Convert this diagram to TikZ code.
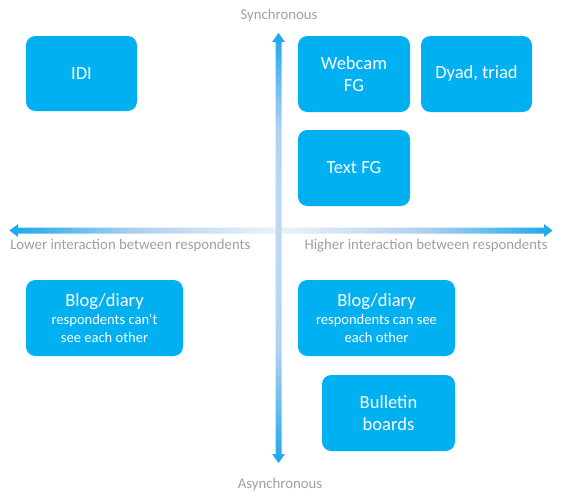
\documentclass[tikz,border=0pt]{standalone}
\usepackage{fontspec}
\setmainfont{Carlito}
\definecolor{boxblue}{HTML}{00B0F0}
\definecolor{axblue}{HTML}{1BA8EE}
\definecolor{axmid}{HTML}{B5D2EE}
\definecolor{axlight}{HTML}{EAF2FA}
\definecolor{labgray}{HTML}{A0A0A0}
\newcommand{\subtext}{\fontsize{10.9}{13}\selectfont}
\tikzset{
  qbox/.style={draw=none, fill=boxblue, rounded corners=7pt, text=white, align=center, inner sep=0pt, font=\fontsize{13.9}{16.5}\selectfont},
  axlabel/.style={text=labgray, inner sep=0pt, font=\fontsize{11.1}{13}\selectfont}
}
\begin{document}
\begin{tikzpicture}[x=0.75pt,y=-0.75pt]
\useasboundingbox (0,0) rectangle (562,497);
\fill[white] (0,0) rectangle (562,497);
% axes
\coordinate (c) at (278.5,230.5);
% left arrow
\shade[left color=axblue, right color=axlight, middle color=axmid]
  (278.5,227.5) -- (18,227.5) -- (18,224) -- (9.5,230.5) -- (18,237) -- (18,233.5) -- (278.5,233.5) -- cycle;
% right arrow
\shade[left color=axlight, right color=axblue, middle color=axmid]
  (278.5,227.5) -- (544,227.5) -- (544,224) -- (552.5,230.5) -- (544,237) -- (544,233.5) -- (278.5,233.5) -- cycle;
% top arrow
\shade[top color=axblue, bottom color=axmid!80!axlight, middle color=axmid]
  (275.5,230.5) -- (275.5,42) -- (272,42) -- (278.5,33) -- (285,42) -- (281.5,42) -- (281.5,230.5) -- cycle;
% bottom arrow
\shade[top color=axmid!80!axlight, bottom color=axblue, middle color=axmid]
  (275.5,230.5) -- (275.5,454) -- (272,454) -- (278.5,463) -- (285,454) -- (281.5,454) -- (281.5,230.5) -- cycle;
% axis labels
\node[axlabel] (syn) at (279,16) {Synchronous};
\node[axlabel] (asyn) at (280,485) {Asynchronous};
\node[axlabel, anchor=west] (low) at (10,245.5) {Lower interaction between respondents};
\node[axlabel, anchor=east] (high) at (548,245.5) {Higher interaction between respondents};
% boxes
\node[qbox, minimum width=83.25pt, minimum height=56.25pt] (idi) at (81.5,73.5) {IDI};
\node[qbox, minimum width=84pt, minimum height=57pt] (web) at (354,74) {Webcam\\FG};
\node[qbox, minimum width=83.25pt, minimum height=57pt] (dyad) at (476.5,74) {Dyad, triad};
\node[qbox, minimum width=84pt, minimum height=57pt] (tfg) at (354,168) {Text FG};
\node[qbox, minimum width=117.75pt, minimum height=57pt] (blogl) at (104.5,318)
  {Blog/diary\\[-3pt]{\subtext respondents can‘t}\\[-3pt]{\subtext see each other}};
\node[qbox, minimum width=117.75pt, minimum height=57pt] (blogr) at (376.5,318)
  {Blog/diary\\[-3pt]{\subtext respondents can see}\\[-3pt]{\subtext each other}};
\node[qbox, minimum width=99.75pt, minimum height=57pt] (bull) at (388.5,413) {Bulletin\\boards};
\end{tikzpicture}
\end{document}
